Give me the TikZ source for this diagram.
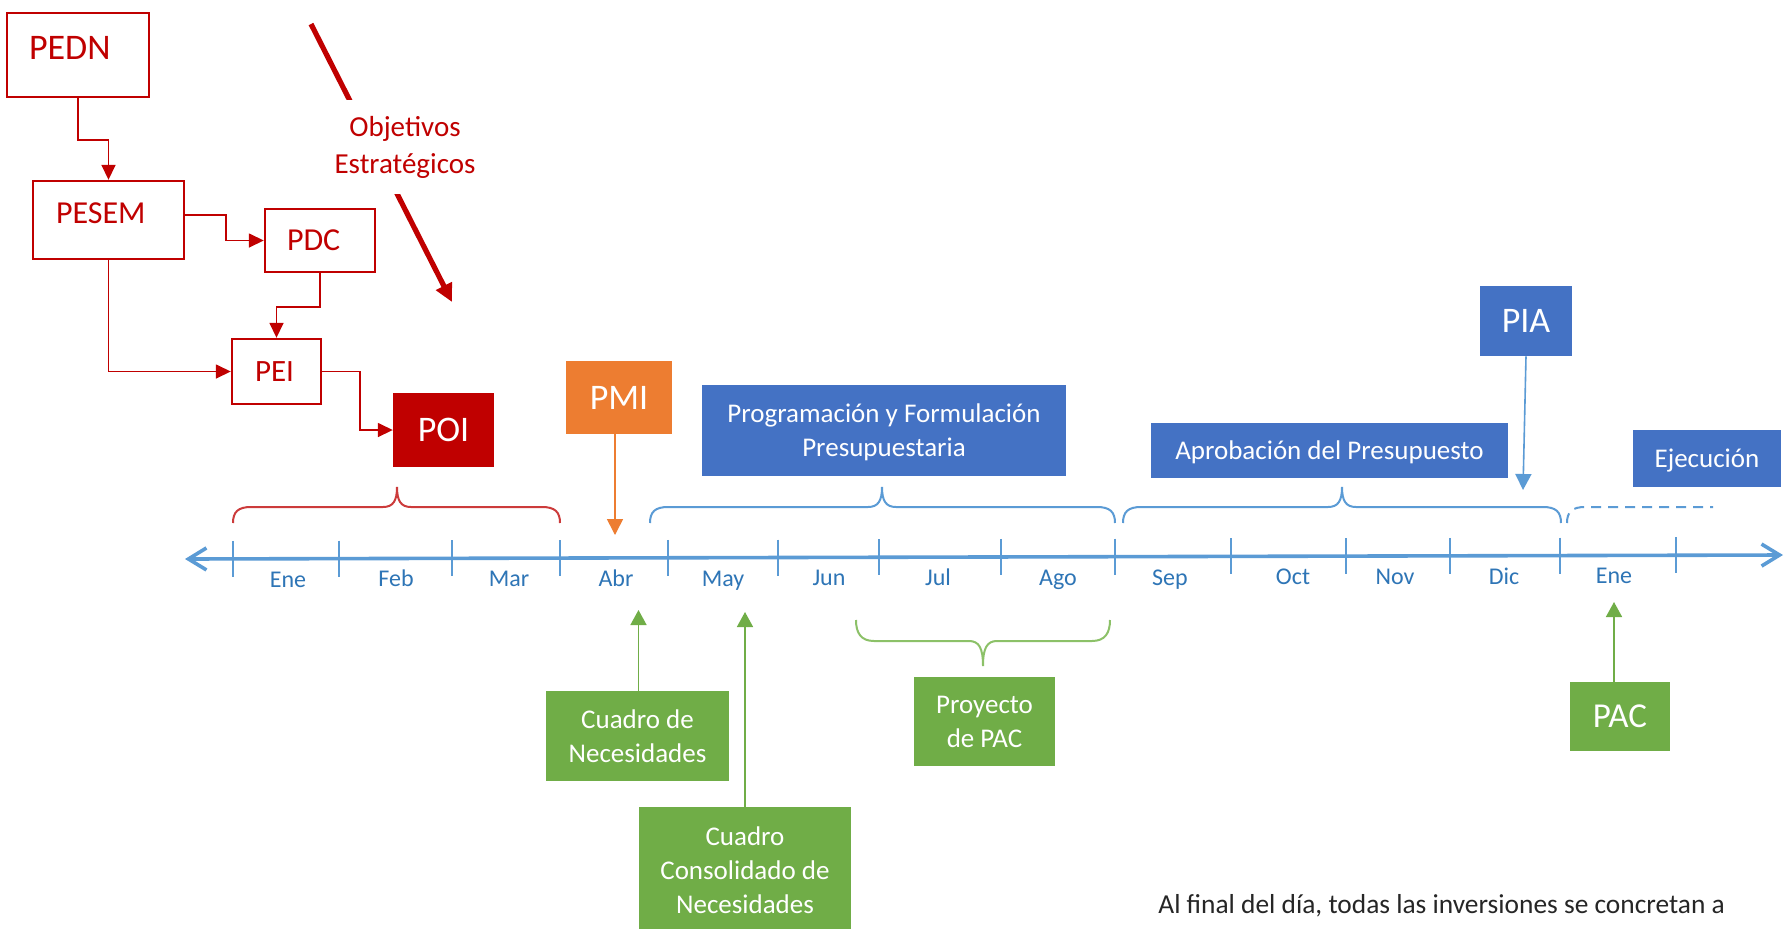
\documentclass[tikz,border=0pt]{standalone}
\usepackage{fontspec}
\setmainfont{Carlito}
\usetikzlibrary{arrows.meta}
\definecolor{cred}{HTML}{C00000}
\definecolor{corange}{HTML}{ED7D31}
\definecolor{cblue}{HTML}{4472C4}
\definecolor{clight}{HTML}{5B9BD5}
\definecolor{cmonth}{HTML}{2E75B6}
\definecolor{cgreen}{HTML}{70AD47}
\definecolor{cgreenl}{HTML}{8CC168}
\definecolor{cbrred}{HTML}{CC3B3B}
\definecolor{ctext}{HTML}{262626}
\newcommand{\bracesup}[4]{%
 \draw[#1] (#2,523) .. controls (#2,512) and ({#2+5},507) .. ({#2+18},507) -- ({#3-14},507) .. controls ({#3-4},507) and (#3,501) .. (#3,487) .. controls (#3,501) and ({#3+4},507) .. ({#3+14},507) -- ({#4-18},507) .. controls ({#4-5},507) and (#4,512) .. (#4,523);}
\begin{document}
\begin{tikzpicture}[x=0.5pt,y=-0.5pt,
  redbox/.style={draw=cred, line width=1.2pt, fill=white, text=cred, inner sep=0pt},
  fillbox/.style={inner sep=0pt, text=white, align=center},
  redarr/.style={draw=cred, line width=0.8pt, -{Triangle[length=7.5pt,width=7pt]}},
  monthlbl/.style={text=cmonth, font=\fontsize{12}{14}\selectfont, anchor=base, inner sep=0pt},
  tickline/.style={draw=clight, line width=0.8pt},
  bred/.style={draw=cbrred, line width=1pt},
  bblue/.style={draw=clight, line width=1pt},
  bgreen/.style={draw=cgreenl, line width=1pt},
  bigf/.style={font=\fontsize{18}{20}\selectfont},
  midf/.style={font=\fontsize{13.5}{17}\selectfont, text depth=0pt},
  garr/.style={draw=cgreen, line width=0.8pt, -{Triangle[length=7.5pt,width=8pt]}}
]
\useasboundingbox (0,0) rectangle (1785,928);
\clip (0,0) rectangle (1785,928);
\fill[white] (0,0) rectangle (1785,928);

% ---- red hierarchy ----
\node[redbox, minimum width=71pt, minimum height=42pt, text width=49pt, inner xsep=11pt, align=left, text depth=7pt, font=\fontsize{18}{20}\selectfont] (PEDN) at (78,55) {PEDN};
\node[redbox, minimum width=75.5pt, minimum height=39pt, text width=52.5pt, inner xsep=11.5pt, align=left, text depth=7pt, font=\fontsize{16}{18}\selectfont] (PESEM) at (108.5,220) {PESEM};
\node[redbox, minimum width=55pt, minimum height=31.5pt, text width=33pt, inner xsep=11pt, align=left, font=\fontsize{16}{18}\selectfont] (PDC) at (320,240.5) {PDC};
\node[redbox, minimum width=44.5pt, minimum height=32.5pt, text width=21.5pt, inner xsep=11.5pt, align=left, font=\fontsize{15.5}{18}\selectfont] (PEI) at (276.5,371.5) {PEI};
\node[redbox, fill=cred, text=white, minimum width=49.5pt, minimum height=36pt, bigf] (POI) at (443.5,430) {POI};

\draw[redarr] (PEDN.south) -- ++(0,42) -| (PESEM.north);
\draw[redarr] ([yshift=2.5pt]PESEM.east) -- ++(41,0) |- (PDC.west);
\draw[redarr] (PDC.south) -- ++(0,34) -| (PEI.north);
\draw[redarr] (PESEM.south) |- (PEI.west);
\draw[redarr] (PEI.east) -- ++(38,0) |- (POI.west);

\coordinate (objS) at (311,24);
\coordinate (objE) at (452,302);
\draw[cred, line width=2.6pt, -{Triangle[length=9pt,width=8.5pt]}] (objS) -- (objE);
\node[font=\fontsize{14.5}{18.5}\selectfont, text=cred, fill=white, align=center, minimum width=92pt, minimum height=47pt, inner sep=0pt] (OBJ) at (405,147) {Objetivos\\Estratégicos};

% ---- timeline ----
\coordinate (axL) at (185,559);
\coordinate (axR) at (1783,555);
\draw[clight, line width=1.8pt, {Straight Barb[length=9pt,width=11pt]}-{Straight Barb[length=9pt,width=11pt]}] (axL) -- (axR);
\foreach \x in {233,339,452,560,668,778,879,1001,1115,1231,1346,1450,1560,1676}{
  \pgfmathsetmacro\yc{559-0.0025*(\x-185)}
  \draw[tickline] (\x,\yc-18) -- (\x,\yc+18);
}
\foreach \m/\x/\n in {Ene/288/a,Feb/396/b,Mar/509/c,Abr/616/d,May/723/e,Jun/829/f,Jul/938/g,Ago/1058/h,Sep/1170/i,Oct/1293/j,Nov/1395/k,Dic/1504/l,Ene/1614/m}{
  \pgfmathsetmacro\yb{587.5-0.0025*(\x-185)}
  \node[monthlbl] (month\n) at (\x,\yb) {\m};
}

% ---- braces ----
\bracesup{bred}{233}{397}{560}
\bracesup{bblue}{650}{882}{1115}
\bracesup{bblue}{1123}{1342}{1561}
\draw[bblue, dash pattern=on 5pt off 3.5pt] (1567,523) .. controls (1567,512) and (1572,507) .. (1585,507) -- (1713,507);
\draw[bgreen] (856,620) .. controls (856,633) and (861,641) .. (874,641) -- (969,641) .. controls (979,641) and (983,648) .. (983,666) .. controls (983,648) and (987,641) .. (997,641) -- (1092,641) .. controls (1105,641) and (1110,633) .. (1110,620);

% ---- upper boxes ----
\node[fillbox, fill=corange, minimum width=53pt, minimum height=36.5pt, bigf] (PMI) at (619,397.5) {PMI};
\node[fillbox, fill=cblue, minimum width=182pt, minimum height=45.5pt, midf] (PFP) at (884,430.5) {Programación y Formulación\\Presupuestaria};
\node[fillbox, fill=cblue, minimum width=178.5pt, minimum height=27.5pt, midf] (APR) at (1329.5,450.5) {Aprobación del Presupuesto};
\node[fillbox, fill=cblue, minimum width=46pt, minimum height=35pt, bigf] (PIA) at (1526,321) {PIA};
\node[fillbox, fill=cblue, minimum width=74pt, minimum height=28.5pt, midf] (EJE) at (1707,458.5) {Ejecución};

\coordinate (pmiT) at (615,535);
\draw[corange, line width=0.8pt, -{Triangle[length=8pt,width=8pt]}] (PMI.south -| pmiT) -- (pmiT);
\coordinate (piaT) at (1523,490);
\draw[clight, line width=0.8pt, -{Triangle[length=8pt,width=8pt]}] (PIA.south) -- (piaT);

% ---- lower boxes ----
\node[fillbox, fill=cgreen, minimum width=91.5pt, minimum height=45pt, midf] (CN) at (637.5,736) {Cuadro de\\Necesidades};
\node[fillbox, fill=cgreen, minimum width=106pt, minimum height=63pt, midf] (CCN) at (745,870) {Cuadro\\Consolidado de\\Necesidades};
\node[fillbox, fill=cgreen, minimum width=70.5pt, minimum height=44.5pt, midf] (PPAC) at (984.5,721.5) {Proyecto\\de PAC};
\node[fillbox, fill=cgreen, minimum width=50pt, minimum height=34.5pt, font=\fontsize{17.5}{20}\selectfont] (PAC) at (1620,716.5) {PAC};

\coordinate (cnT) at (638.5,610);
\draw[garr] (CN.north -| cnT) -- (cnT);
\coordinate (ccnT) at (745,612);
\draw[garr] (CCN.north -| ccnT) -- (ccnT);
\coordinate (pacT) at (1614,602);
\draw[garr] (PAC.north -| pacT) -- (pacT);

\node[anchor=base west, text=ctext, font=\fontsize{13.7}{16}\selectfont, inner sep=0pt] (NOTE) at (1158,913) {Al final del día, todas las inversiones se concretan a};
\end{tikzpicture}
\end{document}
